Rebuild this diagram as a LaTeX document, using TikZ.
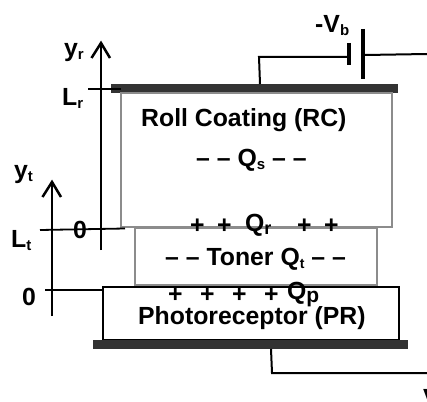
\documentclass[tikz,border=0pt]{standalone}
\usepackage{fontspec}
\setmainfont{Liberation Sans}
\begin{document}
\begin{tikzpicture}[x=1pt,y=-1pt,
  lbl/.style={inner sep=0pt,font=\fontsize{24.8}{28}\selectfont\bfseries,text=black,anchor=base west},
  wire/.style={line width=2pt,black},
  plate/.style={line width=4.6pt,black},
  axis/.style={line width=2.5pt,black},
  tick/.style={line width=1.8pt,black},
  arr/.style={line width=2.5pt,black},
  layer/.style={draw=black!45,line width=1.2pt,fill=white},
  bar/.style={fill=black!80,draw=none}]
\newcommand{\subs}[2][15]{\raisebox{-3pt}{\fontsize{#1}{#1}\selectfont #2}}
\useasboundingbox (0,0) rectangle (427,401);
\begin{scope}
\clip (0,0) rectangle (427,401);
% named connection points
\coordinate (w1) at (260,84);
\coordinate (w1b) at (259,57);
\coordinate (p1) at (349,57);
\coordinate (p1t) at (349,43);
\coordinate (p1b) at (349,65);
\coordinate (p2t) at (363,29);
\coordinate (p2b) at (363,79);
\coordinate (p2) at (365,55);
\coordinate (e1) at (427,54);
\coordinate (w2) at (271,349);
\coordinate (w2b) at (272,373);
\coordinate (e2) at (427,373);
\coordinate (yrb) at (101,250);
\coordinate (yrt) at (101,42);
\coordinate (ytb) at (52,316);
\coordinate (ytt) at (52,181);
% layers
\fill[bar] (111,84) rectangle (398,93);
\draw[layer] (121,93) rectangle (392,227);
\draw[layer] (135,228.5) rectangle (377,285);
\draw[line width=1.3pt,black,fill=white] (103,287) rectangle (399,339.5);
\fill[bar] (93,340) rectangle (408,349);
% wires
\draw[wire] (w1) -- (w1b) -- (p1);
\draw[plate] (p1t) -- (p1b);
\draw[plate] (p2t) -- (p2b);
\draw[wire] (p2) -- (e1);
\draw[wire] (w2) -- (w2b) -- (e2);
% axes
\draw[axis] (yrb) -- (yrt);
\draw[arr] (91.5,58) -- (101,43) -- (110,58);
\draw[axis] (ytb) -- (ytt);
\draw[arr] (42.5,197) -- (52,182) -- (61,197);
\draw[tick] (88,89) -- (121,89);
\draw[tick] (40,230) -- (125,228.5);
\draw[tick] (45,290) -- (103,290);
% labels
\node[lbl] (vb) at (315,33) {-V\subs{b}};
\node[lbl] (yr) at (64,56.5) {y\subs{r}};
\node[lbl] (lr) at (62,105) {L\subs{r}};
\node[lbl] (yt) at (14,178) {y\subs{t}};
\node[lbl] (lt) at (11,247) {L\subs{t}};
\node[lbl] (z1) at (73,238) {0};
\node[lbl] (z2) at (22,305) {0};
\node[lbl] (t1) at (141,126) {Roll Coating (RC)};
\node[lbl] (t2) at (196,166) {-- -- Q\subs{s} -- --};
\node[lbl] (t3) at (190,233) {+\hspace{12.4pt}+};
\node[lbl] (t4) at (245,231) {Q\subs[18]{r}};
\node[lbl] (t5) at (297,233) {+\hspace{12.4pt}+};
\node[lbl] (t6) at (165,265.5) {-- -- Toner Q\subs[14]{t} -- --};
\node[lbl] (t7) at (168,302) {+\hspace{17.5pt}+\hspace{17.5pt}+\hspace{17.5pt}+};
\node[lbl] (t8) at (287,299) {Q\subs[21]{p}};
\node[lbl] (t9) at (138,324) {Photoreceptor (PR)};
\node[lbl] (v) at (423,406.5) {V};
\end{scope}
\end{tikzpicture}
\end{document}
